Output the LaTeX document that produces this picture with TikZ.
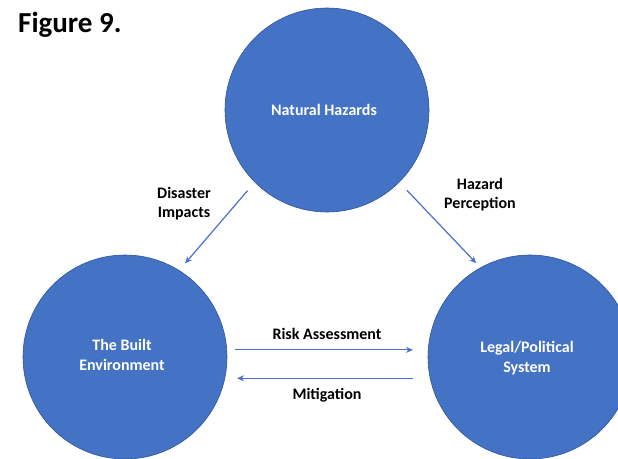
\documentclass[tikz,border=0pt]{standalone}
\usepackage{fontspec}
\setmainfont{Carlito}
\usetikzlibrary{arrows.meta}
\definecolor{cfill}{HTML}{4472C4}
\definecolor{cline}{HTML}{2F5597}
\definecolor{arr}{HTML}{4A6FCF}
\tikzset{
  hub/.style={circle, minimum size=204pt, inner sep=0pt, fill=cfill, draw=cline, line width=0.6pt},
  hubtext/.style={text=white, align=center, inner sep=0pt, font=\fontsize{16}{20}\selectfont\bfseries},
  lbl/.style={align=center, inner sep=0pt, font=\fontsize{16}{19}\selectfont\bfseries, text=black},
  link/.style={draw=arr, line width=1.2pt, -{Stealth[length=7pt,width=6pt]}}
}
\begin{document}
\begin{tikzpicture}[x=1pt,y=-1pt]
\useasboundingbox (0,0) rectangle (618,458);
\clip (0,0) rectangle (618,458);
\fill[white] (0,0) rectangle (618,458);
\node[anchor=base west, inner sep=0pt, font=\fontsize{29}{33}\selectfont\bfseries] (fig) at (18,32) {Figure 9.};
\node[hub] (top) at (327,110) {};
\node[hub] (left) at (125,357) {};
\node[hub] (right) at (530,357) {};
\node[hubtext] (tnh) at (324,110) {Natural Hazards};
\node[hubtext] (tbe) at (122,355) {The Built\\Environment};
\node[hubtext] (tlp) at (527,358) {Legal/Political\\System};
\node[lbl] (di) at (184,204) {Disaster\\Impacts};
\node[lbl] (hp) at (480,195) {Hazard\\Perception};
\node[lbl] (ra) at (327,334) {Risk Assessment};
\node[lbl] (mi) at (327,395) {Mitigation};
\draw[link, shorten <=11pt, shorten >=9pt] (top.225) -- (left.58);
\draw[link, shorten <=11pt, shorten >=6pt] (top.-45) -- (right.119);
\draw[link, shorten <=8pt, shorten >=15pt] (left.4) -- (right.176);
\draw[link, shorten <=17pt, shorten >=12pt] (right.192.5) -- (left.-12.5);
\end{tikzpicture}
\end{document}
